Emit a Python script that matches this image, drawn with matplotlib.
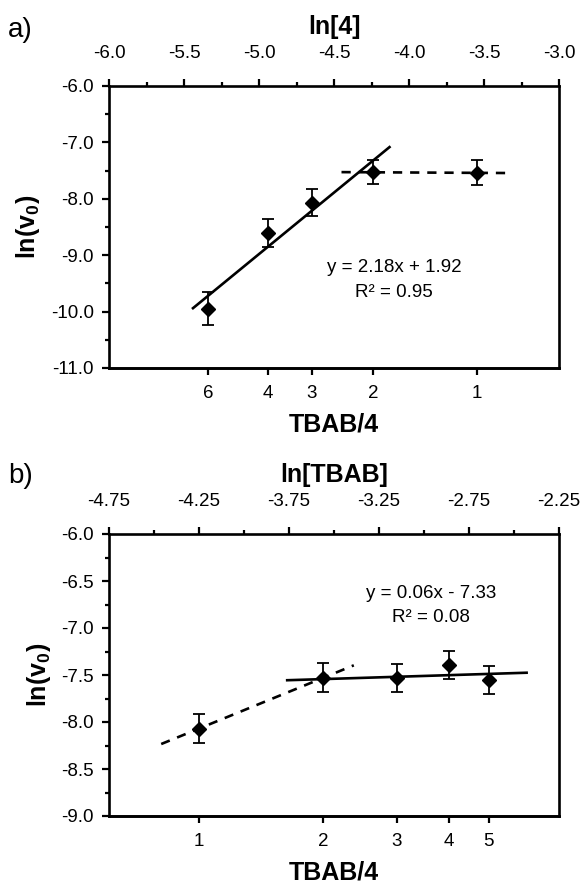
import numpy as np
import matplotlib
matplotlib.use("Agg")
import matplotlib.pyplot as plt
from matplotlib.ticker import FormatStrFormatter, MultipleLocator

plt.rcParams["font.family"] = ["Liberation Sans", "DejaVu Sans"]
plt.rcParams["axes.unicode_minus"] = False
plt.rcParams["mathtext.fontset"] = "custom"
plt.rcParams["mathtext.rm"] = "Liberation Sans"
plt.rcParams["mathtext.bf"] = "Liberation Sans:bold"

# panel a: rate vs ln[4] (TBAB fixed)
ratio_a = [6, 4, 3, 2, 1]
ln4 = [-5.34, -4.94, -4.65, -4.24, -3.55]
lnv_a = [-9.95, -8.61, -8.07, -7.53, -7.54]
err_a = [0.29, 0.25, 0.24, 0.21, 0.22]
fit_a = (2.18, 1.92)
fit_a_range = (-5.44, -4.13)
flat_a_range = (-4.45, -3.35)

# panel b: rate vs ln[TBAB] (4 fixed)
ratio_b = [1, 2, 3, 4, 5]
ln_tbab = [-4.25, -3.56, -3.15, -2.86, -2.64]
lnv_b = [-8.07, -7.53, -7.53, -7.39, -7.55]
err_b = [0.155, 0.155, 0.15, 0.15, 0.15]
fit_b = (0.06, -7.33)
fit_b_range = (-3.76, -2.43)
rise_b_range = (-4.46, -3.39)

W, H = 583, 885
fig = plt.figure(figsize=(W / 100, H / 100), dpi=100)


def make_axes(top_px, bottom_px):
    left, right = 109, 559
    return fig.add_axes([left / W, 1 - bottom_px / H,
                         (right - left) / W, (bottom_px - top_px) / H])


def style(ax, xlim, ylim, xmaj, ymaj, xfmt, ratios, xs, top_title):
    ax.set_xlim(*xlim)
    ax.set_ylim(*ylim)
    for s in ax.spines.values():
        s.set_linewidth(1.9)
    ax.xaxis.tick_top()
    ax.xaxis.set_label_position("top")
    # major ticks start at the left limit
    off = xlim[0] % xmaj
    ax.xaxis.set_major_locator(MultipleLocator(xmaj, offset=off))
    ax.xaxis.set_minor_locator(MultipleLocator(xmaj / 2, offset=off % (xmaj / 2)))
    ax.xaxis.set_major_formatter(FormatStrFormatter(xfmt))
    ax.yaxis.set_major_locator(MultipleLocator(ymaj))
    ax.yaxis.set_minor_locator(MultipleLocator(ymaj / 2))
    ax.yaxis.set_major_formatter(FormatStrFormatter("%.1f"))
    ax.tick_params(which="major", direction="out", length=5, width=1.6,
                   labelsize=13.5, pad=12)
    ax.tick_params(which="minor", direction="out", length=3, width=1.6)
    ax.tick_params(axis="y", pad=6)
    ax.set_xlabel(top_title, fontsize=18, fontweight="bold", labelpad=8)
    ax.set_ylabel(r"$\mathbf{ln(v_0)}$", fontsize=18, labelpad=6)

    sec = ax.secondary_xaxis("bottom", functions=(lambda v: v, lambda v: v))
    sec.set_xticks(xs, [str(r) for r in ratios])
    sec.spines["bottom"].set_linewidth(1.9)
    sec.tick_params(direction="out", length=5, width=1.6, labelsize=13.5,
                    pad=7)
    sec.set_xlabel("TBAB/4", fontsize=18, fontweight="bold", labelpad=8)


def line(ax, coef, xr, **kw):
    xx = np.array(xr)
    ax.plot(xx, coef[0] * xx + coef[1], color="black", lw=1.9, **kw)


def points(ax, x, y, e):
    ax.errorbar(x, y, yerr=e, fmt="D", color="black", ms=7.5,
                ecolor="black", elinewidth=1.3, capsize=4.5, capthick=1.3,
                zorder=3)


# ---- a) ----
ax1 = make_axes(86, 368)
style(ax1, (-6.0, -3.0), (-11.0, -6.0), 0.5, 1.0, "%.1f",
      ratio_a, ln4, "ln[4]")
line(ax1, fit_a, fit_a_range)
flat = np.polyfit(ln4[3:], lnv_a[3:], 1)
line(ax1, flat, flat_a_range, ls=(0, (3.5, 3)))
points(ax1, ln4, lnv_a, err_a)
ax1.text(-4.10, -9.22, "y = 2.18x + 1.92", ha="center", va="center",
         fontsize=13.5)
ax1.text(-4.10, -9.66, "R² = 0.95", ha="center", va="center", fontsize=13.5)
fig.text(8 / W, 1 - 30 / H, "a)", fontsize=20, va="center")

# ---- b) ----
ax2 = make_axes(534, 816)
style(ax2, (-4.75, -2.25), (-9.0, -6.0), 0.5, 0.5, "%.2f",
      ratio_b, ln_tbab, "ln[TBAB]")
line(ax2, fit_b, fit_b_range)
rise = np.polyfit(ln_tbab[:2], lnv_b[:2], 1)
line(ax2, rise, rise_b_range, ls=(0, (3.5, 3)))
points(ax2, ln_tbab, lnv_b, err_b)
ax2.text(-2.96, -6.63, "y = 0.06x - 7.33", ha="center", va="center",
         fontsize=13.5)
ax2.text(-2.96, -6.89, "R² = 0.08", ha="center", va="center", fontsize=13.5)
fig.text(8 / W, 1 - 476 / H, "b)", fontsize=20, va="center")

fig.savefig("out.png", dpi=100)
